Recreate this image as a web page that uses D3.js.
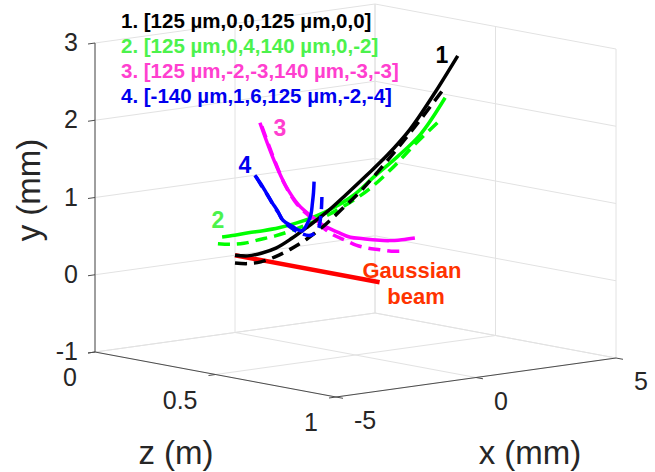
<!doctype html>
<html lang="en">

<head>
  <meta charset="UTF-8">
  <title>beam trajectories</title>
  <style type="text/css">
    * {
      padding: 0;
      margin: 0;
    }

    body {
      background: #fff;
    }

    svg text {
      font-family: "Liberation Sans", Arial, sans-serif;
    }
  </style>
  <script src="https://cdn.jsdelivr.net/npm/d3@7/dist/d3.min.js"></script>
</head>

<body>
  <svg width="655" height="472"></svg>

  <script>
    // axis ticks
    var zTicks = [0, 0.5, 1];
    var xTicks = [-5, 0, 5];
    var yTicks = [-1, 0, 1, 2, 3];

    // propagation distance samples (m)
    var zSteps = [0, 0.05, 0.1, 0.15, 0.2, 0.25, 0.3, 0.35, 0.4, 0.45, 0.5, 0.55, 0.6];

    // gaussian beam
    var beamZ = [0, 0.6];
    var beamX = [0, 0];
    var beamY = [0, 0];

    // 1: solid / dashed
    var x1 = [0, 0.02, 0.08, 0.17, 0.31, 0.48, 0.70, 0.95, 1.24, 1.57, 1.94, 2.34, 2.79];
    var y1 = [0, 0.02, 0.08, 0.17, 0.32, 0.50, 0.70, 0.94, 1.20, 1.48, 1.82, 2.27, 2.79];
    var x1d = [0, 0.02, 0.06, 0.14, 0.25, 0.39, 0.57, 0.77, 1.01, 1.28, 1.58, 1.91, 2.27];
    var y1d = [-0.1, -0.08, -0.03, 0.06, 0.18, 0.33, 0.52, 0.75, 1.0, 1.3, 1.63, 1.99, 2.38];

    // 2
    var x2 = [-0.46, -0.44, -0.38, -0.29, -0.15, 0.03, 0.24, 0.49, 0.79, 1.12, 1.49, 1.89, 2.34];
    var y2 = [0.26, 0.31, 0.37, 0.42, 0.48, 0.56, 0.66, 0.79, 0.97, 1.23, 1.49, 1.79, 2.27];
    var x2d = [-0.61, -0.59, -0.54, -0.44, -0.31, -0.14, 0.07, 0.31, 0.59, 0.91, 1.27, 1.66, 2.09];
    var y2d = [0.18, 0.20, 0.24, 0.31, 0.38, 0.47, 0.58, 0.71, 0.87, 1.07, 1.34, 1.66, 1.97];

    // 3
    var x3 = [0.89, 0.92, 0.95, 0.98, 1.01, 1.05, 1.08, 1.11, 1.14, 1.17, 1.20, 1.23, 1.26];
    var y3 = [1.67, 1.25, 0.91, 0.69, 0.57, 0.47, 0.42, 0.38, 0.39, 0.40, 0.42, 0.46, 0.51];
    var x3d = [0.96, 0.95, 0.94, 0.93, 0.92, 0.91, 0.90, 0.89, 0.88, 0.87, 0.86, 0.85, 0.84];
    var y3d = [1.62, 1.24, 0.91, 0.70, 0.58, 0.48, 0.40, 0.36, 0.32, 0.31, 0.32, 0.33, 0.36];

    // 4
    var x4 = [0.71, 0.49, 0.26, 0.03, -0.20, -0.44, -0.55, -0.63, -0.84, -1.16, -1.54, -1.93, -2.34];
    var y4 = [1.00, 0.93, 0.85, 0.77, 0.70, 0.62, 0.58, 0.55, 0.70, 0.85, 1.04, 1.23, 1.42];
    var x4d = [0.75, 0.52, 0.29, 0.05, -0.18, -0.41, -0.55, -0.66, -0.74, -0.90, -1.25, -1.65, -2.06];
    var y4d = [0.98, 0.90, 0.83, 0.75, 0.68, 0.60, 0.55, 0.52, 0.53, 0.65, 0.83, 0.99, 1.21];

    var legendLines = [
      "1. [125 µm,0,0,125 µm,0,0]",
      "2. [125 µm,0,4,140 µm,0,-2]",
      "3. [125 µm,-2,-3,140 µm,-3,-3]",
      "4. [-140 µm,1,6,125 µm,-2,-4]"
    ];
    var legendColors = ["#000000", "#4cf24c", "#ff3fcf", "#0000ee"];

    var svg = d3.select("svg");

    // oblique projection of the 3d box
    var ox = 95;
    var zToX = d3.scaleLinear().domain([0, 1]).range([0, 241]);
    var zToY = d3.scaleLinear().domain([0, 1]).range([0, 45]);
    var xToX = d3.scaleLinear().domain([-5, 5]).range([0, 280]);
    var xToY = d3.scaleLinear().domain([-5, 5]).range([0, -39]);
    var yScale = d3.scaleLinear().domain([-1, 3]).range([352, 43]);

    function proj(z, x, y) {
      return [ox + zToX(z) + xToX(x), yScale(y) + zToY(z) + xToY(x)];
    }

    var grid = svg.append("g")
      .attr("stroke", "#e2e2e2")
      .attr("stroke-width", 1)
      .attr("fill", "none");

    function seg(g, a, b) {
      g.append("line")
        .attr("x1", a[0]).attr("y1", a[1])
        .attr("x2", b[0]).attr("y2", b[1]);
    }

    // back wall z=0
    yTicks.forEach(function (y) { seg(grid, proj(0, -5, y), proj(0, 5, y)); });
    xTicks.forEach(function (x) { seg(grid, proj(0, x, -1), proj(0, x, 3)); });
    // back wall x=5
    yTicks.forEach(function (y) { seg(grid, proj(0, 5, y), proj(1, 5, y)); });
    zTicks.forEach(function (z) { seg(grid, proj(z, 5, -1), proj(z, 5, 3)); });
    // floor y=-1
    xTicks.forEach(function (x) { seg(grid, proj(0, x, -1), proj(1, x, -1)); });
    zTicks.forEach(function (z) { seg(grid, proj(z, -5, -1), proj(z, 5, -1)); });

    // axes
    var axes = svg.append("g")
      .attr("stroke", "#4d4d4d")
      .attr("stroke-width", 1);
    seg(axes, proj(0, -5, -1), proj(0, -5, 3));
    seg(axes, proj(0, -5, -1), proj(1, -5, -1));
    seg(axes, proj(1, -5, -1), proj(1, 5, -1));

    yTicks.forEach(function (y) {
      var p = proj(0, -5, y);
      seg(axes, [p[0] - 7, p[1] + 1], p);
    });
    zTicks.forEach(function (z) {
      var p = proj(z, -5, -1);
      seg(axes, p, [p[0] - 7, p[1] + 1]);
    });
    xTicks.forEach(function (x) {
      var p = proj(1, x, -1);
      seg(axes, p, [p[0] + 7, p[1] + 1.3]);
    });

    var tickFont = 25;
    var ticks = svg.append("g")
      .attr("fill", "#262626")
      .attr("font-size", tickFont);

    ticks.selectAll(".ty").data(yTicks).enter().append("text")
      .attr("x", function (d) { return proj(0, -5, d)[0] - 17; })
      .attr("y", function (d) { return proj(0, -5, d)[1] + 8; })
      .attr("text-anchor", "end")
      .text(function (d) { return d; });

    ticks.selectAll(".tz").data(zTicks).enter().append("text")
      .attr("x", function (d) { return proj(d, -5, -1)[0] - 18; })
      .attr("y", function (d) { return proj(d, -5, -1)[1] + 34; })
      .attr("text-anchor", "end")
      .text(function (d) { return d; });

    ticks.selectAll(".tx").data(xTicks).enter().append("text")
      .attr("x", function (d) { return proj(1, d, -1)[0] + 18; })
      .attr("y", function (d) { return proj(1, d, -1)[1] + 32; })
      .attr("text-anchor", "start")
      .text(function (d) { return d; });

    // axis titles
    var titles = svg.append("g")
      .attr("fill", "#262626")
      .attr("font-size", 33)
      .attr("text-anchor", "middle");
    titles.append("text").attr("x", 176).attr("y", 464).text("z (m)");
    titles.append("text").attr("x", 530).attr("y", 464).text("x (mm)");
    titles.append("text")
      .attr("transform", "translate(40,190) rotate(-90)")
      .text("y (mm)");

    // curves
    var line = d3.line()
      .x(function (d) { return d[0]; })
      .y(function (d) { return d[1]; })
      .curve(d3.curveCatmullRom.alpha(0.5));

    function pts(zs, xs, ys) {
      return zs.map(function (z, i) { return proj(z, xs[i], ys[i]); });
    }

    function draw(zs, xs, ys, color, width, dash) {
      svg.append("path")
        .attr("d", line(pts(zs, xs, ys)))
        .attr("fill", "none")
        .attr("stroke", color)
        .attr("stroke-width", width)
        .attr("stroke-linecap", "butt")
        .attr("stroke-dasharray", dash || null);
    }

    var dash = "12,7";
    draw(beamZ, beamX, beamY, "#ff0000", 4.5);
    draw(zSteps, x2d, y2d, "#00ff00", 3.5, dash);
    draw(zSteps, x2, y2, "#00ff00", 3.5);
    draw(zSteps, x3d, y3d, "#ff00ff", 3.5, dash);
    draw(zSteps, x3, y3, "#ff00ff", 3.5);
    draw(zSteps, x1d, y1d, "#000000", 3.5, dash);
    draw(zSteps, x1, y1, "#000000", 3.5);
    draw(zSteps, x4d, y4d, "#0000ff", 3.5, dash);
    draw(zSteps, x4, y4, "#0000ff", 3.5);

    // legend text
    svg.append("g")
      .attr("font-size", 20.5)
      .attr("font-weight", "bold")
      .selectAll("text")
      .data(legendLines)
      .enter()
      .append("text")
      .attr("x", 121)
      .attr("y", function (d, i) { return 28 + i * 25; })
      .attr("fill", function (d, i) { return legendColors[i]; })
      .text(function (d) { return d; });

    // curve numbers
    var tags = svg.append("g")
      .attr("font-size", 23)
      .attr("font-weight", "bold")
      .attr("text-anchor", "middle");
    tags.append("text").attr("x", 442).attr("y", 63).attr("fill", "#000000").text("1");
    tags.append("text").attr("x", 218).attr("y", 228).attr("fill", legendColors[1]).text("2");
    tags.append("text").attr("x", 280).attr("y", 136).attr("fill", legendColors[2]).text("3");
    tags.append("text").attr("x", 245).attr("y", 173).attr("fill", legendColors[3]).text("4");

    var gb = svg.append("g")
      .attr("font-size", 22)
      .attr("font-weight", "bold")
      .attr("fill", "#ff3300")
      .attr("text-anchor", "middle");
    gb.append("text").attr("x", 412).attr("y", 278).text("Gaussian");
    gb.append("text").attr("x", 416).attr("y", 304).text("beam");
  </script>
</body>

</html>
